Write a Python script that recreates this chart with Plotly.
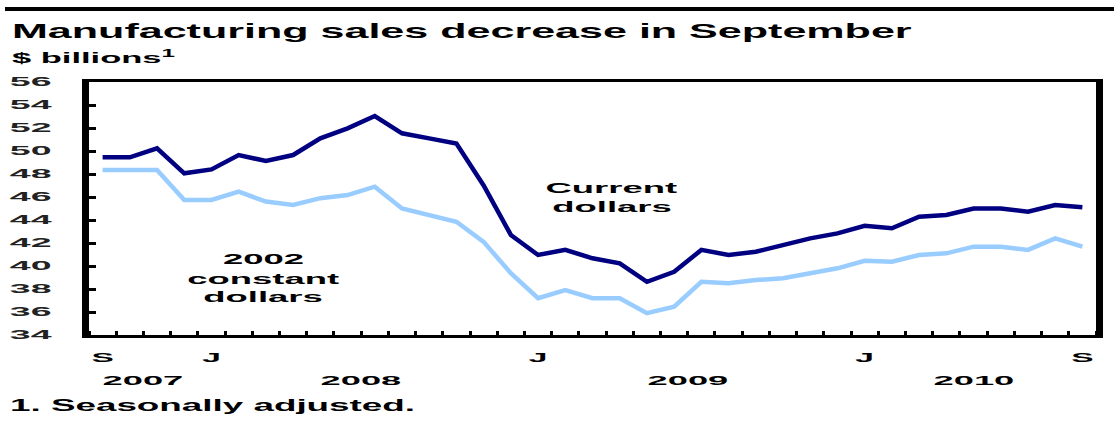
import json
import pandas as pd
import plotly.graph_objects as go

# Monthly manufacturing sales, $ billions, seasonally adjusted
months = [p.strftime("%Y-%m") for p in pd.period_range("2007-09", "2010-09", freq="M")]

current_dollars = [
    49.45, 49.45, 50.23, 48.06, 48.40, 49.65, 49.13, 49.65, 51.10, 51.97,
    53.04, 51.54, 51.10, 50.65, 47.00, 42.70, 40.96, 41.40, 40.67, 40.23,
    38.63, 39.50, 41.40, 40.96, 41.24, 41.83, 42.40, 42.84, 43.50, 43.28,
    44.29, 44.43, 45.00, 45.00, 44.72, 45.30, 45.10,
]
constant_2002_dollars = [
    48.35, 48.35, 48.35, 45.74, 45.74, 46.46, 45.60, 45.30, 45.90, 46.17,
    46.90, 45.00, 44.43, 43.85, 42.10, 39.37, 37.20, 37.90, 37.20, 37.20,
    35.90, 36.46, 38.63, 38.50, 38.78, 38.93, 39.37, 39.80, 40.45, 40.37,
    40.96, 41.10, 41.68, 41.68, 41.40, 42.40, 41.68,
]

month_letters = {"09": "S", "01": "J"}
labelled_months = ["2007-09", "2008-01", "2009-01", "2010-01", "2010-09"]
year_labels = ["2007", "2008", "2009", "2010"]
y_ticks = list(range(34, 57, 2))

DARK = "#000080"
LIGHT = "#99ccff"
FONT = "Liberation Sans"

W, H = 1114, 421
ML, MR, MT, MB = 89, 18, 82, 86
PW, PH = W - ML - MR, H - MT - MB


def px_x(px):
    return (px - ML) / PW


def px_y(py):
    return (H - MB - py) / PH


pos = list(range(len(months)))
label_pos = [months.index(m) for m in labelled_months]
label_text = [month_letters[m[5:]] for m in labelled_months]
boundaries = [i - 0.5 for i in range(len(months) + 1)]

fig = go.Figure()
fig.add_trace(go.Scatter(x=pos, y=constant_2002_dollars, mode="lines",
                         line=dict(color=LIGHT, width=4.5), hoverinfo="skip"))
fig.add_trace(go.Scatter(x=pos, y=current_dollars, mode="lines",
                         line=dict(color=DARK, width=4.5), hoverinfo="skip"))


def font(size):
    return dict(family=FONT, size=size, color="black", weight="bold")


# (annotation, horizontal widening factor for its text)
notes = [
    (dict(text="Manufacturing sales decrease in September", x=px_x(10), y=px_y(30),
          xref="paper", yref="paper", xanchor="left", align="left",
          font=font(21)), 2.05),
    (dict(text="$ billions<sup>1</sup>", x=px_x(10), y=px_y(57),
          xref="paper", yref="paper", xanchor="left", align="left",
          font=font(15)), 2.3),
    (dict(text="1. Seasonally adjusted.", x=px_x(8), y=px_y(405),
          xref="paper", yref="paper", xanchor="left", align="left",
          font=font(16)), 2.3),
]

# year labels centred under each year's months
for yr in year_labels:
    idx = [i for i, m in enumerate(months) if m.startswith(yr)]
    notes.append((dict(text=yr, x=(idx[0] + idx[-1]) / 2, y=px_y(381),
                       xref="x", yref="paper", font=font(12.5)), 2.9))

# series labels inside the plot, one line each
for line, yv in [("Current", 46.78), ("dollars", 45.13)]:
    notes.append((dict(text=line, x=18.7, y=yv, xref="x", yref="y",
                       font=font(14)), 2.6))
for line, yv in [("2002", 40.6), ("constant", 38.87), ("dollars", 37.3)]:
    notes.append((dict(text=line, x=5.9, y=yv, xref="x", yref="y",
                       font=font(14)), 2.6))

annotations = []
for a, _ in notes:
    a.update(showarrow=False, yanchor="middle")
    a.setdefault("xanchor", "center")
    annotations.append(a)
widen_factors = [k for _, k in notes]

fig.update_layout(
    width=W, height=H,
    margin=dict(l=ML, r=MR, t=MT, b=MB, pad=0),
    paper_bgcolor="white", plot_bgcolor="white",
    showlegend=False,
    annotations=annotations,
    shapes=[dict(type="line", xref="paper", yref="paper",
                 x0=px_x(5), x1=px_x(W), y0=px_y(9), y1=px_y(9),
                 line=dict(color="black", width=4))],
)

fig.update_xaxes(
    range=[boundaries[0], boundaries[-1]],
    tickmode="array", tickvals=label_pos, ticktext=label_text, ticks="",
    minor=dict(tickmode="array", tickvals=boundaries, ticks="inside",
               ticklen=4, tickwidth=3, tickcolor="black"),
    showline=True, linewidth=3, linecolor="black", mirror=True,
    showgrid=False, zeroline=False, ticklabelstandoff=10,
    tickfont=font(12),
)
fig.update_yaxes(
    range=[34, 56], tickmode="array", tickvals=y_ticks,
    ticks="inside", ticklen=7, tickwidth=3, tickcolor="black",
    showline=True, linewidth=7, linecolor="black", mirror=True,
    showgrid=False, zeroline=False, ticklabelstandoff=28,
    tickfont=dict(family=FONT, size=12.5, color="#222222", weight="bold"),
)

# Wide, horizontally stretched lettering
widen_js = """
var gd = document.getElementById('{plot_id}');
var annK = %s;
function widen(t, k) {
  var n = t.getComputedTextLength();
  if (n > 0) {
    t.setAttribute('textLength', (n * k).toFixed(1));
    t.setAttribute('lengthAdjust', 'spacingAndGlyphs');
  }
}
gd.querySelectorAll('g.annotation').forEach(function (g) {
  var t = g.querySelector('text.annotation-text');
  var i = +g.getAttribute('data-index');
  if (t && annK[i]) widen(t, annK[i]);
});
gd.querySelectorAll('.xtick text').forEach(function (t) { widen(t, 2.8); });
gd.querySelectorAll('.ytick text').forEach(function (t) { widen(t, 3.0); });
""" % json.dumps(widen_factors)

fig.write_html("out.html", post_script=widen_js)
